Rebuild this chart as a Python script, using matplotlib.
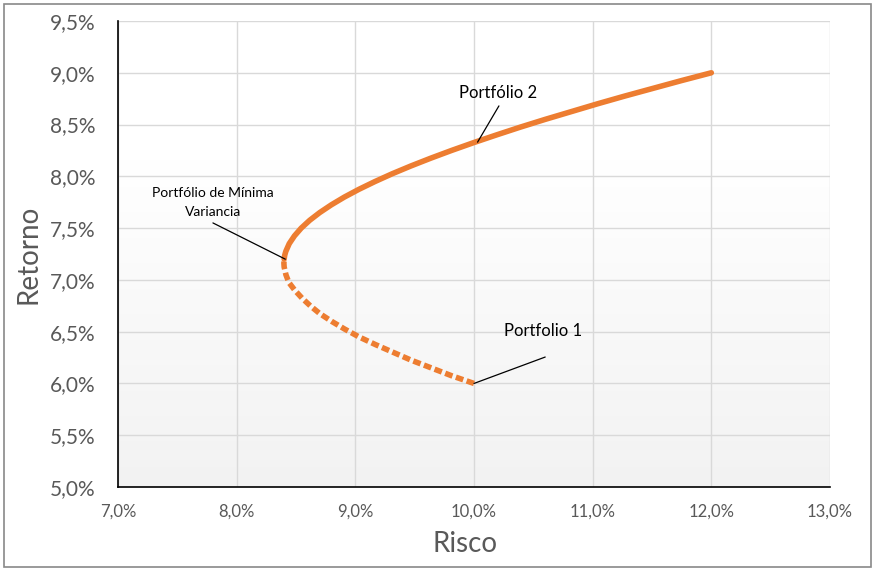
import numpy as np
import matplotlib
matplotlib.use("Agg")
from matplotlib import pyplot as plt
from matplotlib.patches import Rectangle
from matplotlib.ticker import FuncFormatter, MultipleLocator

plt.rcParams["font.family"] = ["Lato", "DejaVu Sans"]

# risco (%) e retorno (%)
risco_baixo = [10.00, 9.81, 9.64, 9.47, 9.32, 9.17, 9.03, 8.91, 8.80, 8.70, 8.62, 8.55,
               8.49, 8.44, 8.415, 8.40, 8.398, 8.40]
retorno_baixo = [6.000, 6.075, 6.150, 6.225, 6.300, 6.375, 6.450, 6.525, 6.600, 6.675, 6.750, 6.825,
                 6.900, 6.975, 7.050, 7.125, 7.160, 7.200]
risco_alto = [8.40, 8.405, 8.414, 8.443, 8.487, 8.544, 8.615, 8.700, 8.798, 8.908, 9.031, 9.166,
              9.311, 9.468, 9.635, 9.811, 9.996, 10.19, 10.39, 10.60, 10.82, 11.04, 11.27,
              11.51, 11.75, 12.00]
retorno_alto = [7.200, 7.238, 7.275, 7.350, 7.425, 7.500, 7.575, 7.650, 7.725, 7.800, 7.875, 7.950,
                8.025, 8.100, 8.175, 8.250, 8.325, 8.400, 8.475, 8.550, 8.625, 8.700, 8.775,
                8.850, 8.925, 9.000]

laranja = "#ED7D31"
cinza_txt = "#595959"

fig = plt.figure(figsize=(8.81, 5.73), dpi=100)
ax = fig.add_axes((118/881, 1-487/573, 712/881, 466/573))

# borda externa
fig.patches.append(Rectangle((4/881, 6/573), 867/881, 563/573, transform=fig.transFigure,
                             fill=False, edgecolor="#898989", linewidth=1.2))

# fundo em degradê
grad = np.linspace(0, 1, 256).reshape(-1, 1)
grad = np.clip((grad - 0.3) / 0.7, 0, 1)
cor = 1 - 0.05 * grad
img = np.dstack([cor, cor, cor])
ax.imshow(img, extent=(0, 1, 0, 1), transform=ax.transAxes, aspect="auto",
          origin="upper", zorder=0)

ax.plot(risco_alto, retorno_alto, color=laranja, lw=4.0, solid_capstyle="round",
        solid_joinstyle="round", zorder=3)
ax.plot(risco_baixo, retorno_baixo, color=laranja, lw=4.0, linestyle=(0, (1.4, 0.65)),
        dash_capstyle="butt", zorder=3)

ax.set_xlim(7, 13)
ax.set_ylim(5, 9.5)
ax.xaxis.set_major_locator(MultipleLocator(1))
ax.yaxis.set_major_locator(MultipleLocator(0.5))
fmt = FuncFormatter(lambda v, p: f"{v:.1f}%".replace(".", ","))
ax.xaxis.set_major_formatter(fmt)
ax.yaxis.set_major_formatter(fmt)
ax.grid(True, color="#d9d9d9", lw=1)
ax.set_axisbelow(True)
for s in ("top", "right"):
    ax.spines[s].set_visible(False)
for s in ("left", "bottom"):
    ax.spines[s].set_color("black")
    ax.spines[s].set_linewidth(1.2)
ax.tick_params(length=0, colors=cinza_txt)
ax.tick_params(axis="y", labelsize=15, pad=16)
ax.tick_params(axis="x", labelsize=12, pad=12)

ax.set_xlabel("Risco", fontsize=20, color=cinza_txt, labelpad=8)
ax.xaxis.set_label_coords(0.488, -0.095)
ax.set_ylabel("Retorno", fontsize=20, color=cinza_txt, labelpad=6)

seta = dict(arrowstyle="-", color="black", lw=0.9, shrinkA=0, shrinkB=0)
ax.annotate("", xy=(10.03, 8.33), xytext=(10.21, 8.68), arrowprops=seta)
ax.text(10.2, 8.80, "Portfólio 2", fontsize=12, ha="center", va="center")
ax.annotate("", xy=(10.0, 6.0), xytext=(10.6, 6.255), arrowprops=seta)
ax.text(10.58, 6.51, "Portfolio 1", fontsize=12, ha="center", va="center")
ax.annotate("", xy=(8.41, 7.2), xytext=(7.8, 7.55), arrowprops=seta)
ax.text(7.8, 7.745, "Portfólio de Mínima\nVariancia", fontsize=10, ha="center",
        va="center", linespacing=1.75)

fig.savefig("out.png", dpi=100)
